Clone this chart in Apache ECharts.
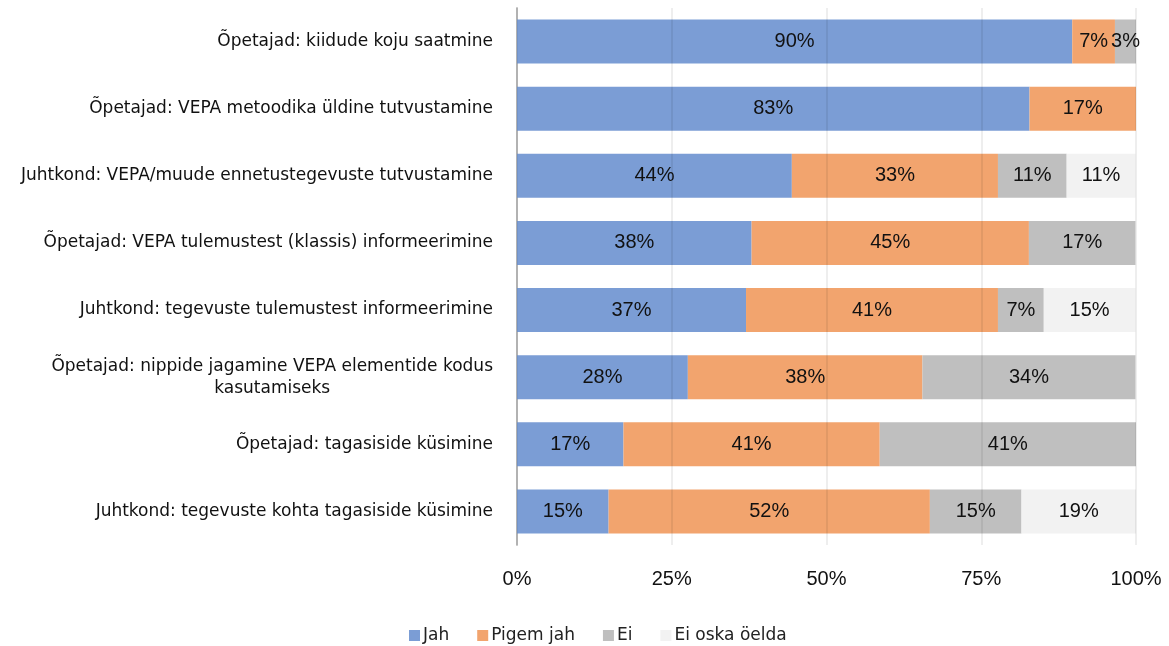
<!DOCTYPE html>
<html>
<head>
<meta charset="utf-8">
<script src="https://cdn.jsdelivr.net/npm/echarts@6/dist/echarts.min.js"></script>
<style>
  html, body { margin: 0; padding: 0; background: #fff; }
  #chart { width: 1169px; height: 646px; }
</style>
</head>
<body>
<div id="chart"></div>
<script>
const categories = [
  "Õpetajad: kiidude koju saatmine",
  "Õpetajad: VEPA metoodika üldine tutvustamine",
  "Juhtkond: VEPA/muude ennetustegevuste tutvustamine",
  "Õpetajad: VEPA tulemustest (klassis) informeerimine",
  "Juhtkond: tegevuste tulemustest informeerimine",
  "Õpetajad: nippide jagamine VEPA elementide kodus\nkasutamiseks",
  "Õpetajad: tagasiside küsimine",
  "Juhtkond: tegevuste kohta tagasiside küsimine"
]
const seriesNames = ["Jah", "Pigem jah", "Ei", "Ei oska öelda"]
const jah = [89.7, 82.8, 44.4, 37.9, 37.0, 27.6, 17.2, 14.8]
const pigemJah = [6.9, 17.2, 33.3, 44.8, 40.7, 37.9, 41.4, 51.9]
const ei = [3.4, 0, 11.1, 17.2, 7.4, 34.4, 41.4, 14.8]
const eiOska = [0, 0, 11.1, 0, 14.8, 0, 0, 18.5]
const xTicks = [0, 25, 50, 75, 100]

const colors = ["#7b9dd5", "#f2a46e", "#bfbfbf", "#f2f2f2"]
const values = [jah, pigemJah, ei, eiOska]

const chart = echarts.init(document.getElementById("chart"))

const options = {
  animation: false,
  grid: { left: 517, right: 33, top: 8, bottom: 101 },
  legend: {
    left: 404,
    top: 622,
    itemWidth: 11,
    itemHeight: 11,
    itemGap: 28,
    icon: "rect",
    textStyle: { fontFamily: "DejaVu Sans", fontSize: 17, color: "#222", padding: [0, 0, 0, -2] },
    data: seriesNames
  },
  xAxis: {
    type: "value",
    min: 0,
    max: 100,
    interval: 25,
    z: 5,
    axisLine: { show: false },
    axisTick: { show: false },
    splitLine: { lineStyle: { color: "rgba(0,0,0,0.065)", width: 2 } },
    axisLabel: {
      margin: 24,
      fontFamily: "Liberation Sans",
      fontSize: 20,
      color: "#111",
      customValues: xTicks,
      formatter: (v) => v + "%"
    }
  },
  yAxis: {
    type: "category",
    inverse: true,
    data: categories,
    axisLine: { show: true, lineStyle: { color: "#bfbfbf", width: 2 } },
    axisTick: { show: false },
    axisLabel: {
      margin: 24,
      fontFamily: "DejaVu Sans",
      fontSize: 17,
      color: "#111",
      formatter: (v) => v.split("\n").map((s) => "{c|" + s + "}").join("\n"),
      rich: { c: { align: "center", fontFamily: "DejaVu Sans", fontSize: 17, color: "#111", lineHeight: 22 } }
    }
  },
  series: seriesNames.map((name, i) => ({
    name: name,
    type: "bar",
    stack: "total",
    barWidth: 44,
    itemStyle: { color: colors[i] },
    label: {
      show: true,
      position: "inside",
      fontFamily: "Liberation Sans",
      fontSize: 20,
      color: "#111",
      formatter: (p) => (p.value > 0 ? Math.round(p.value) + "%" : "")
    },
    data: values[i]
  }))
}

chart.setOption(options)
</script>
</body>
</html>
